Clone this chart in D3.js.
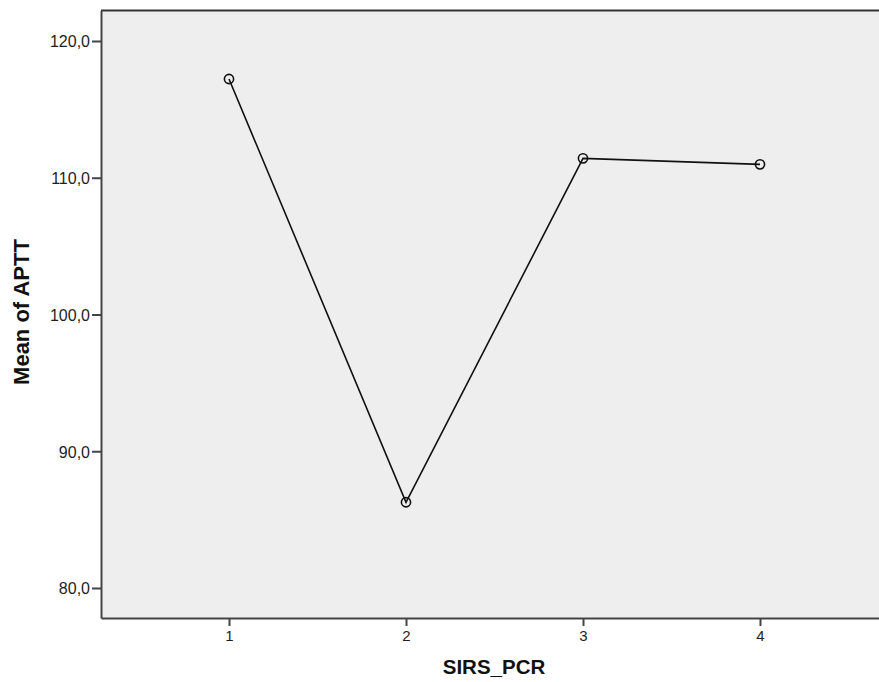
<!DOCTYPE html>
<html>
<head>
<meta charset="utf-8">
<script src="https://cdn.jsdelivr.net/npm/d3@7/dist/d3.min.js"></script>
<style>
html,body{margin:0;padding:0;background:#fff;}
svg{display:block;}
</style>
</head>
<body>
<svg id="chart" width="879" height="682"></svg>
<script>
const categories = [1, 2, 3, 4];
const meanAPTT = [117.22, 86.27, 111.42, 110.98];
const yTicks = [80, 90, 100, 110, 120];
const xTitle = "SIRS_PCR";
const yTitle = "Mean of APTT";

const svg = d3.select("#chart");
const plotLeft = 101, plotTop = 10.5, plotRight = 888, plotBottom = 618;

const x = d3.scaleLinear().domain([0.2768, 4.7232]).range([plotLeft, plotRight]);
const y = d3.scaleLinear().domain([77.806, 122.23]).range([plotBottom, plotTop]);

// plot background
svg.append("rect")
  .attr("x", plotLeft).attr("y", plotTop)
  .attr("width", plotRight - plotLeft).attr("height", plotBottom - plotTop)
  .attr("fill", "#eeeeee");

// top border
svg.append("line")
  .attr("x1", plotLeft).attr("x2", plotRight)
  .attr("y1", plotTop).attr("y2", plotTop)
  .attr("stroke", "#333").attr("stroke-width", 2);

// axes
const yAxis = d3.axisLeft(y).tickValues(yTicks)
  .tickFormat(d => d3.format(".1f")(d).replace(".", ","))
  .tickSizeInner(9).tickSizeOuter(0).tickPadding(2);
const gy = svg.append("g").attr("transform", `translate(${plotLeft},0)`).call(yAxis);
gy.select(".domain").attr("stroke", "#444").attr("stroke-width", 2);
gy.selectAll(".tick line").attr("stroke", "#444").attr("stroke-width", 2);
gy.selectAll(".tick text").attr("font-family", "'Liberation Sans', Arial, sans-serif")
  .attr("font-size", 16).attr("fill", "#1e1e1e").attr("dy", "0.36em");

const xAxis = d3.axisBottom(x).tickValues(categories).tickFormat(d3.format("d"))
  .tickSizeInner(8).tickSizeOuter(0).tickPadding(4);
const gx = svg.append("g").attr("transform", `translate(0,${plotBottom})`).call(xAxis);
gx.select(".domain").attr("stroke", "#444").attr("stroke-width", 2);
gx.selectAll(".tick line").attr("stroke", "#444").attr("stroke-width", 2);
gx.selectAll(".tick text").attr("font-family", "'Liberation Sans', Arial, sans-serif")
  .attr("font-size", 15).attr("fill", "#1e1e1e");

// line
const pts = categories.map((c, i) => [c, meanAPTT[i]]);
svg.append("path")
  .datum(pts)
  .attr("fill", "none")
  .attr("stroke", "#111")
  .attr("stroke-width", 1.6)
  .attr("d", d3.line().x(d => x(d[0])).y(d => y(d[1])));

svg.selectAll("circle.pt")
  .data(pts)
  .enter().append("circle")
  .attr("class", "pt")
  .attr("cx", d => x(d[0])).attr("cy", d => y(d[1]))
  .attr("r", 4.6)
  .attr("fill", "none")
  .attr("stroke", "#111")
  .attr("stroke-width", 1.6);

// titles
svg.append("text")
  .attr("x", 494).attr("y", 674)
  .attr("text-anchor", "middle")
  .attr("font-family", "'Liberation Sans', Arial, sans-serif")
  .attr("font-weight", "bold").attr("font-size", 20.5).attr("fill", "#111")
  .text(xTitle);

svg.append("text")
  .attr("transform", "translate(29,312) rotate(-90)")
  .attr("text-anchor", "middle")
  .attr("font-family", "'Liberation Sans', Arial, sans-serif")
  .attr("font-weight", "bold").attr("font-size", 22).attr("fill", "#111")
  .text(yTitle);
</script>
</body>
</html>
